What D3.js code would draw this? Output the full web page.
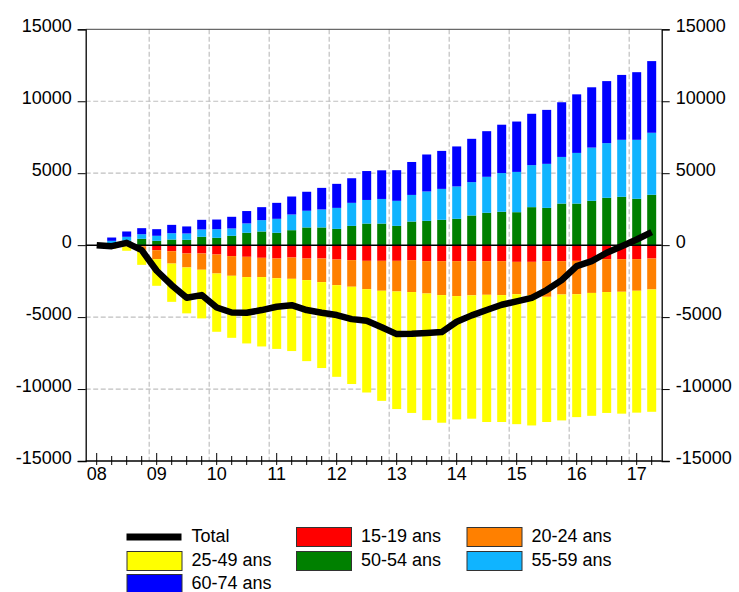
<!DOCTYPE html>
<html>
<head>
<meta charset="utf-8">
<script src="https://cdn.jsdelivr.net/npm/d3@7"></script>
<style>
  body { margin: 0; background: #fff; }
  svg { display: block; font-family: "Liberation Sans", Arial, sans-serif; }
</style>
</head>
<body>
<svg class="chart" width="739" height="592"></svg>
<script>
// quarters 2008T1 .. 2017T2
const quarters = [];
for (let yr = 2008; yr <= 2017; yr++) {
  for (let q = 1; q <= 4; q++) {
    if (yr === 2017 && q > 2) break;
    quarters.push(`${yr}T${q}`);
  }
}

const yearLabels = ["08", "09", "10", "11", "12", "13", "14", "15", "16", "17"];
const yTicks = [-15000, -10000, -5000, 0, 5000, 10000, 15000];

const a15_19 = [0, -20, -30, -80, -350, -420, -580, -580, -650, -760, -810, -880, -930, -860, -930, -930, -1000, -1040, -1090, -1090, -1090, -1040, -1110, -1110, -1110, -1110, -1110, -1110, -1160, -1160, -1110, -1110, -1090, -1000, -970, -970, -970, -930];
const a20_24 = [0, -40, -60, -250, -625, -860, -970, -1130, -1320, -1370, -1410, -1340, -1370, -1480, -1500, -1640, -1780, -1850, -1970, -2080, -2130, -2220, -2250, -2360, -2430, -2380, -2340, -2360, -2250, -2320, -2480, -2320, -2320, -2320, -2290, -2270, -2200, -2150];
const a25_49 = [0, -200, -300, -1040, -1850, -2660, -3190, -3380, -4050, -4310, -4610, -4820, -4910, -5020, -5630, -5970, -6370, -6760, -7180, -7650, -8170, -8400, -8800, -8870, -8570, -8570, -8840, -8820, -9030, -9050, -8700, -8750, -8540, -8540, -8400, -8470, -8470, -8500];
const a50_54 = [0, 120, 300, 440, 300, 390, 370, 580, 510, 650, 860, 950, 860, 1040, 1230, 1230, 1130, 1340, 1500, 1500, 1340, 1640, 1690, 1760, 1830, 2060, 2250, 2320, 2290, 2640, 2590, 2890, 2890, 3080, 3290, 3360, 3220, 3500];
const a55_59 = [0, 180, 280, 320, 350, 440, 440, 510, 600, 510, 650, 790, 970, 1090, 1160, 1250, 1460, 1600, 1640, 1710, 1740, 1850, 2040, 2150, 2250, 2320, 2500, 2690, 2800, 2920, 3060, 3240, 3520, 3700, 3800, 3960, 4100, 4310];
const a60_74 = [0, 230, 370, 420, 460, 580, 490, 670, 670, 810, 860, 900, 1110, 1250, 1320, 1500, 1670, 1710, 2010, 1990, 2130, 2290, 2570, 2640, 2780, 3010, 3170, 3360, 3500, 3570, 3750, 3800, 4070, 4190, 4310, 4510, 4700, 4980];
const total = [0, -70, 160, -350, -1780, -2780, -3660, -3470, -4330, -4680, -4700, -4510, -4280, -4170, -4510, -4700, -4860, -5140, -5250, -5700, -6180, -6160, -6110, -6040, -5320, -4880, -4510, -4140, -3910, -3660, -3120, -2430, -1460, -1110, -530, -70, 390, 900];

const seriesNames = ["15-19 ans", "20-24 ans", "25-49 ans", "50-54 ans", "55-59 ans", "60-74 ans"];
const seriesValues = [a15_19, a20_24, a25_49, a50_54, a55_59, a60_74];
const colors = ["#ff0000", "#ff8000", "#ffff00", "#008000", "#10b4ff", "#0000ff"];

const svg = d3.select(".chart");

const plotLeft = 85.7, plotRight = 661.7, plotTop = 29.3, plotBottom = 461;

const x = d3.scaleLinear().domain([-0.733, quarters.length - 0.333]).range([plotLeft, plotRight]);
const y = d3.scaleLinear().domain([-15000, 15000]).range([plotBottom, plotTop]);

// table for the stack
const table = quarters.map((q, i) => {
  const row = { q, i };
  seriesNames.forEach((n, j) => (row[n] = seriesValues[j][i]));
  return row;
});

const stacked = d3.stack().keys(seriesNames).offset(d3.stackOffsetDiverging)(table);

// grid
const grid = svg.append("g")
  .attr("stroke", "#c0c0c0")
  .attr("stroke-width", 1.2)
  .attr("stroke-dasharray", "5,2.5");

grid.selectAll("line.h")
  .data(yTicks.filter((d) => d !== 0 && Math.abs(d) < 15000))
  .enter()
  .append("line")
  .attr("x1", plotLeft).attr("x2", plotRight)
  .attr("y1", (d) => y(d)).attr("y2", (d) => y(d));

grid.selectAll("line.v")
  .data(d3.range(1, yearLabels.length))
  .enter()
  .append("line")
  .attr("x1", (d) => x(d * 4 - 0.5)).attr("x2", (d) => x(d * 4 - 0.5))
  .attr("y1", plotTop).attr("y2", plotBottom);

// bars
const barW = 9;
svg.append("g")
  .selectAll("g")
  .data(stacked)
  .enter()
  .append("g")
  .attr("fill", (d, i) => colors[i])
  .selectAll("rect")
  .data((d) => d)
  .enter()
  .append("rect")
  .attr("x", (d) => x(d.data.i) - barW / 2)
  .attr("width", barW)
  .attr("y", (d) => y(Math.max(d[0], d[1])))
  .attr("height", (d) => Math.abs(y(d[0]) - y(d[1])));

// zero line
svg.append("line")
  .attr("x1", plotLeft).attr("x2", plotRight)
  .attr("y1", y(0)).attr("y2", y(0))
  .attr("stroke", "#000")
  .attr("stroke-width", 1.5);

// total line
const line = d3.line()
  .x((d, i) => x(i))
  .y((d) => y(d));

svg.append("path")
  .attr("d", line(total))
  .attr("fill", "none")
  .attr("stroke", "#000")
  .attr("stroke-width", 6.5)
  .attr("stroke-linejoin", "round");

// frame
svg.append("line")
  .attr("x1", plotLeft).attr("x2", plotRight)
  .attr("y1", plotTop).attr("y2", plotTop)
  .attr("stroke", "#444").attr("stroke-width", 1);

// axes (plain numbers, ascii hyphen)
const fontSize = 18;
const fmt = (d) => String(d);
const leftAxis = d3.axisLeft(y).tickValues(yTicks).tickFormat(fmt).tickSize(8).tickPadding(6);
const rightAxis = d3.axisRight(y).tickValues(yTicks).tickFormat(fmt).tickSize(8).tickPadding(6);

function styleAxis(g) {
  g.select(".domain").attr("stroke", "#000").attr("stroke-width", 1.3);
  g.selectAll(".tick line").attr("stroke", "#000");
  g.selectAll(".tick text")
    .attr("font-size", fontSize)
    .attr("font-family", "Liberation Sans, Arial, sans-serif")
    .attr("fill", "#000")
    .attr("dy", "0.13em");
}

svg.append("g").attr("transform", `translate(${plotLeft},0)`).call(leftAxis).call(styleAxis);
svg.append("g").attr("transform", `translate(${plotRight},0)`).call(rightAxis).call(styleAxis);

// bottom axis: minor ticks each quarter, year labels
const xAxisG = svg.append("g");
xAxisG.append("line")
  .attr("x1", plotLeft).attr("x2", plotRight)
  .attr("y1", plotBottom).attr("y2", plotBottom)
  .attr("stroke", "#000").attr("stroke-width", 1.3);

xAxisG.selectAll("line.tick")
  .data(quarters)
  .enter()
  .append("line")
  .attr("x1", (d, i) => x(i)).attr("x2", (d, i) => x(i))
  .attr("y1", (d, i) => plotBottom - (i % 4 === 0 ? 8 : 5))
  .attr("y2", plotBottom + 4)
  .attr("stroke", "#000");

xAxisG.selectAll("text")
  .data(yearLabels)
  .enter()
  .append("text")
  .attr("x", (d, i) => x(i * 4))
  .attr("y", plotBottom + 19)
  .attr("text-anchor", "middle")
  .attr("font-size", fontSize)
  .text((d) => d);

// legend
const legendItems = [{ name: "Total", color: "#000", line: true }].concat(
  seriesNames.map((n, i) => ({ name: n, color: colors[i] }))
);
const colX = [126.5, 296, 466.5];
const rowY = [527, 551, 574];

const legend = svg.append("g")
  .selectAll("g")
  .data(legendItems)
  .enter()
  .append("g")
  .attr("transform", (d, i) => `translate(${colX[i % 3]},${rowY[Math.floor(i / 3)]})`);

legend.filter((d) => d.line)
  .append("line")
  .attr("x1", 0).attr("x2", 55)
  .attr("y1", 10).attr("y2", 10)
  .attr("stroke", "#000")
  .attr("stroke-width", 7);

legend.filter((d) => !d.line)
  .append("rect")
  .attr("x", 0.5).attr("y", 0.5)
  .attr("width", 55).attr("height", 19)
  .attr("fill", (d) => d.color)
  .attr("stroke", "#333")
  .attr("stroke-width", 1);

legend.append("text")
  .attr("x", 65)
  .attr("y", 14.5)
  .attr("font-size", fontSize)
  .text((d) => d.name);
</script>
</body>
</html>
